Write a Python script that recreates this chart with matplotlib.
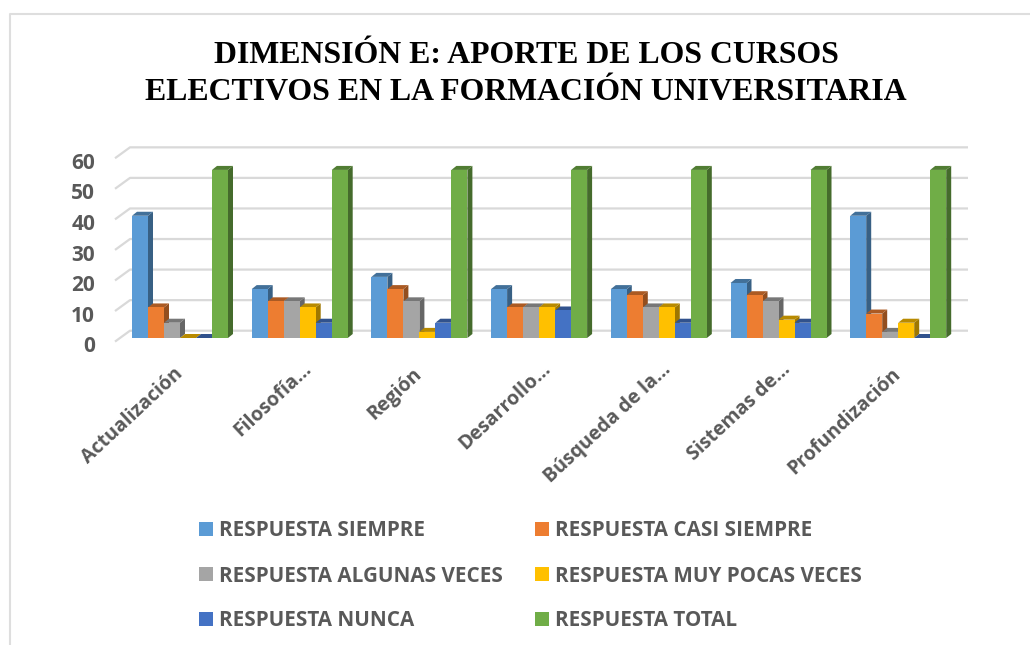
import numpy as np
import matplotlib
matplotlib.use('Agg')
import matplotlib.pyplot as plt
from matplotlib.colors import to_rgb
from matplotlib.lines import Line2D
from matplotlib.patches import Polygon, Rectangle
from matplotlib.transforms import ScaledTranslation

# Data
categories = ['Actualización', 'Filosofía…', 'Región', 'Desarrollo…',
              'Búsqueda de la…', 'Sistemas de…', 'Profundización']
siempre = [40, 16, 20, 16, 16, 18, 40]
casi_siempre = [10, 12, 16, 10, 14, 14, 8]
algunas_veces = [5, 12, 12, 10, 10, 12, 2]
muy_pocas = [0, 10, 2, 10, 10, 6, 5]
nunca = [0, 5, 5, 9, 5, 5, 0]
total = [55, 55, 55, 55, 55, 55, 55]
y_ticks = [0, 10, 20, 30, 40, 50, 60]

series_names = ['RESPUESTA SIEMPRE', 'RESPUESTA CASI SIEMPRE', 'RESPUESTA ALGUNAS VECES',
                'RESPUESTA MUY POCAS VECES', 'RESPUESTA NUNCA', 'RESPUESTA TOTAL']
series = [siempre, casi_siempre, algunas_veces, muy_pocas, nunca, total]
colors = ['#5B9BD5', '#ED7D31', '#A5A5A5', '#FFC000', '#4472C4', '#70AD47']

W, H = 1030, 645
GREY = '#595959'
px_x = 119.7        # pixels per category
px_y = 3.056        # pixels per value unit


def fx(p):
    return p / W


def fy(p):
    return 1 - p / H


def shade(c, k):
    return tuple(v * k for v in to_rgb(c))


fig = plt.figure(figsize=(W / 100, H / 100), dpi=100, facecolor='white')

# axes box in pixels; value 0 at y=338, first group centred at x=180
left, right, top, bottom = 115, 970, 140, 350
ax = fig.add_axes([fx(left), fy(bottom), (right - left) / W, (bottom - top) / H])
ax.patch.set_visible(False)
for s in ax.spines.values():
    s.set_visible(False)

# walls: each gridline runs back from the front edge, then along the back wall
front_dy = -3.6 / px_y
back_dy = 7.3 / px_y
x_front = (115 - 180) / px_x
x_back = (130 - 180) / px_x
x_end = (968 - 180) / px_x
for v in y_ticks:
    ax.plot([x_front, x_back, x_end], [v + front_dy, v + back_dy, v + back_dy],
            color='#D9D9D9', lw=1.6, zorder=1, clip_on=False, solid_capstyle='butt')

# bars with a small fake 3D depth
bar_w = 16 / px_x
dx = 5 / px_x
dy = 4 / px_y
z = 2
for i in range(len(categories)):
    for j, vals in enumerate(series):
        x0 = i + (j - 3) * bar_w
        v = vals[i]
        c = colors[j]
        ax.add_patch(Polygon([(x0 + bar_w, 0), (x0 + bar_w + dx, dy), (x0 + bar_w + dx, v + dy), (x0 + bar_w, v)],
                             closed=True, fc=shade(c, 0.62), ec='none', zorder=z, clip_on=False))
        ax.add_patch(Polygon([(x0, v), (x0 + dx, v + dy), (x0 + bar_w + dx, v + dy), (x0 + bar_w, v)],
                             closed=True, fc=shade(c, 0.72), ec='none', zorder=z, clip_on=False))
        ax.bar(x0, v, width=bar_w, align='edge', color=c, zorder=z + 0.5, clip_on=False)
        z += 1

# axis labels
ax.set_yticks(np.array(y_ticks) + front_dy - 1.7, labels=[str(v) for v in y_ticks])
ax.set_xticks(range(len(categories)), labels=categories)
ax.set_xlim((left - 180) / px_x, (right - 180) / px_x)
ax.set_ylim((338 - bottom) / px_y, (338 - top) / px_y)
ax.tick_params(axis='y', length=0, pad=14.4, labelsize=15, labelcolor=GREY)
ax.tick_params(axis='x', length=0, pad=15.4, labelsize=14, labelcolor=GREY)
for t in ax.get_yticklabels():
    t.set_fontfamily('Open Sans')
    t.set_fontweight('bold')
    t.set_verticalalignment('center')
for t in ax.get_xticklabels():
    t.set_fontfamily('Open Sans')
    t.set_fontweight('bold')
    t.set_rotation(43)
    t.set_ha('right')
    t.set_va('center')
    t.set_rotation_mode('anchor')
    # truncated labels sit a little further up and right in the original
    if t.get_text().endswith('…'):
        t.set_transform(t.get_transform() + ScaledTranslation(9 / 100, 5 / 100, fig.dpi_scale_trans))

# title
fig.text(fx(526), fy(63), 'DIMENSIÓN E: APORTE DE LOS CURSOS', family='Liberation Serif',
         fontweight='bold', fontsize=22.9, color='black', ha='center', va='baseline')
fig.text(fx(526), fy(100.5), 'ELECTIVOS EN LA FORMACIÓN UNIVERSITARIA', family='Liberation Serif',
         fontweight='bold', fontsize=22.9, color='black', ha='center', va='baseline')

# legend, two columns
for k, name in enumerate(series_names):
    col = k % 2
    row = k // 2
    xp = 199 + col * 336
    yp = 529 + row * 45
    fig.add_artist(Rectangle((fx(xp), fy(yp + 7)), 14 / W, 14 / H, transform=fig.transFigure,
                             fc=colors[k], ec='none'))
    fig.text(fx(xp + 20), fy(yp + 2), name, family='Open Sans', fontweight='bold', fontsize=14.9,
             color=GREY, ha='left', va='center')

# frame of the pasted chart
fig.add_artist(Line2D([fx(10), fx(10), 1], [0, fy(14), fy(14)], color='#DEDEDE', lw=1.5))

fig.savefig('out.png', dpi=100)
